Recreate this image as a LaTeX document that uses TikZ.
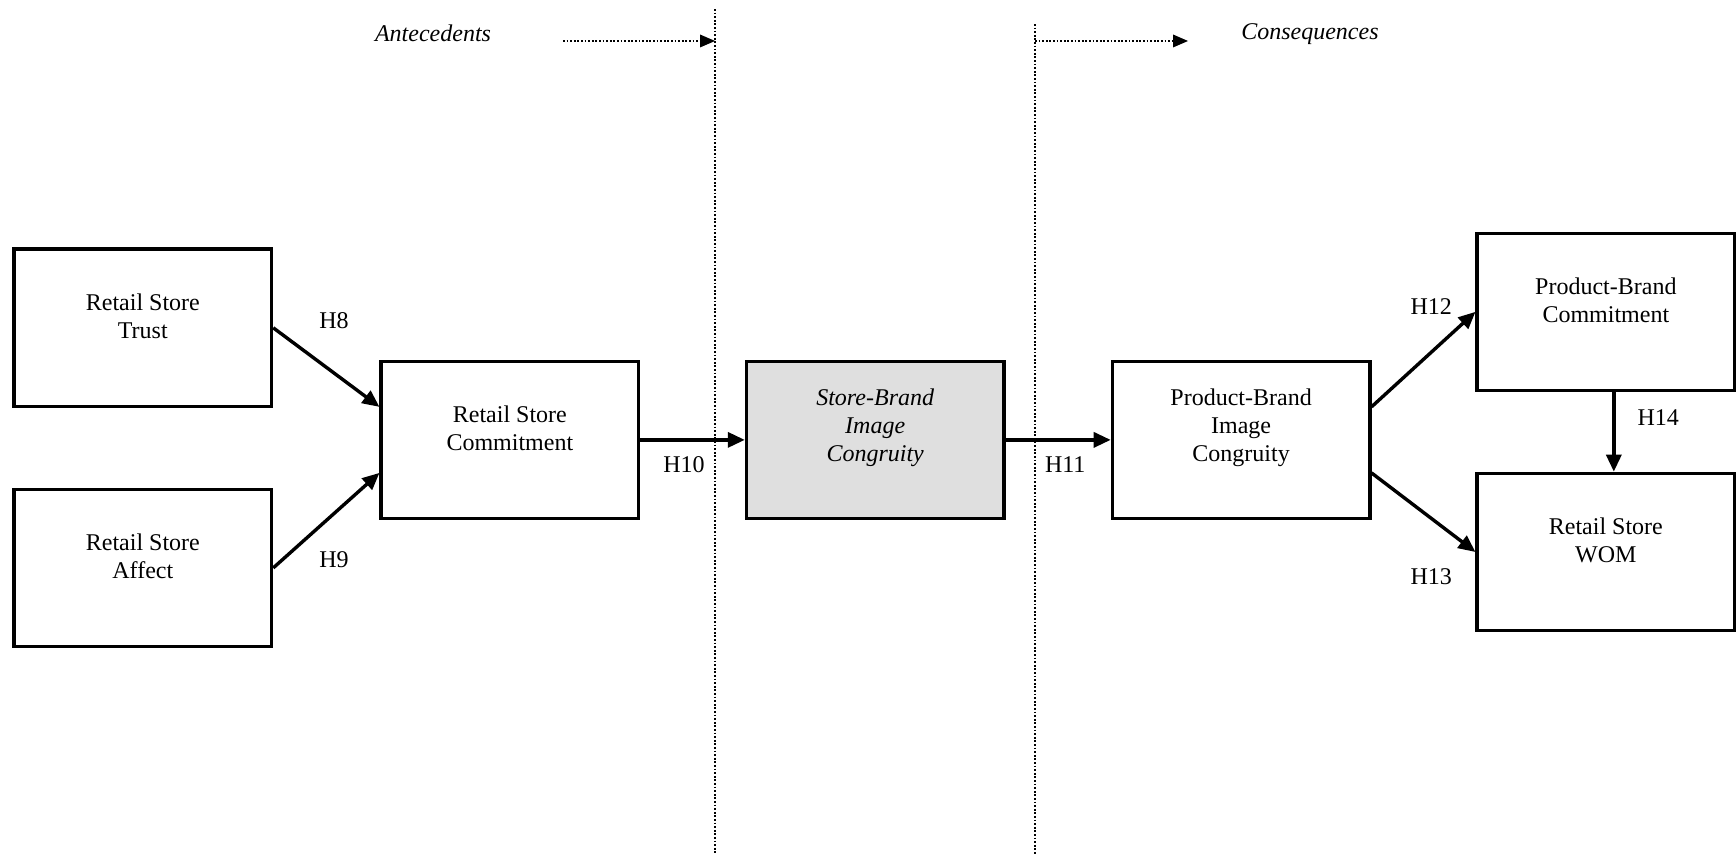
\documentclass[tikz,border=0pt]{standalone}
\usepackage{fontspec}
\setmainfont{Liberation Serif}
\usetikzlibrary{arrows.meta}

\tikzset{
  construct/.style={draw, line width=1.8pt, minimum width=4.52cm, minimum height=2.76cm, inner sep=0pt},
  boxtext/.style={align=center, yshift=0.21cm, font=\fontsize{12pt}{14pt}\selectfont},
  hyp/.style={font=\fontsize{12pt}{14pt}\selectfont},
  path arrow/.style={line width=1.7pt, -{Triangle[length=8.5pt,width=7.5pt]}},
  divider/.style={line width=1.4pt, dash pattern=on 0.9pt off 0.9pt},
  phase arrow/.style={divider, -{Triangle[length=7.5pt,width=6.5pt,line width=0pt]}}
}

\begin{document}
\begin{tikzpicture}

    \useasboundingbox (0, 0) rectangle (30.507, -15.007);

    % phase dividers
    \coordinate (d1top) at (12.565, -0.158);
    \coordinate (d1bot) at (12.565, -15.007);
    \coordinate (d2top) at (18.188, -0.422);
    \coordinate (d2bot) at (18.188, -15.007);
    \draw [divider] (d1top) -- (d1bot);
    \draw [divider] (d2top) -- (d2bot);

    \node[hyp, font=\fontsize{12pt}{14pt}\selectfont\itshape] at (7.61, -0.58) (ante) {Antecedents};
    \node[hyp, font=\fontsize{12pt}{14pt}\selectfont\itshape] at (23.02, -0.60) (cons) {Consequences};
    \coordinate (a1) at (9.894, -0.72);
    \coordinate (a2) at (12.565, -0.72);
    \coordinate (c1) at (18.188, -0.72);
    \coordinate (c2) at (20.877, -0.72);
    \draw [phase arrow] (a1) -- (a2);
    \draw [phase arrow] (c1) -- (c2);

    % constructs
    \draw (2.51, -5.76) node[construct, label={[boxtext]center:Retail Store\\Trust}] (trust) {};
    \draw (2.51, -9.98) node[construct, label={[boxtext]center:Retail Store\\Affect}] (affect) {};
    \draw (8.96, -7.73) node[construct, label={[boxtext]center:Retail Store\\Commitment}] (rscom) {};
    \draw (15.38, -7.73) node[construct, fill=gray!25, label={[boxtext, font=\fontsize{12pt}{14pt}\selectfont\itshape]center:Store-Brand\\Image\\Congruity}] (sbic) {};
    \draw (21.81, -7.73) node[construct, label={[boxtext]center:Product-Brand\\Image\\Congruity}] (pbic) {};
    \draw (28.22, -5.48) node[construct, label={[boxtext]center:Product-Brand\\Commitment}] (pbcom) {};
    \draw (28.22, -9.70) node[construct, label={[boxtext]center:Retail Store\\WOM}] (wom) {};

    % hypotheses
    \draw [path arrow] (trust.east) to ([yshift=0.58cm]rscom.west);
    \draw [path arrow] (affect.east) to ([yshift=-0.58cm]rscom.west);
    \draw [path arrow] (rscom) to (sbic);
    \draw [path arrow] (sbic) to (pbic);
    \draw [path arrow] ([yshift=0.58cm]pbic.east) to (pbcom.west);
    \draw [path arrow] ([yshift=-0.58cm]pbic.east) to (wom.west);
    \draw [path arrow] ([xshift=0.14cm]pbcom.south) to ([xshift=0.14cm]wom.north);

    \node[hyp] at (5.87, -5.64) (h8) {H8};
    \node[hyp] at (5.87, -9.84) (h9) {H9};
    \node[hyp] at (12.02, -8.17) (h10) {H10};
    \node[hyp] at (18.72, -8.17) (h11) {H11};
    \node[hyp] at (25.15, -5.38) (h12) {H12};
    \node[hyp] at (25.15, -10.14) (h13) {H13};
    \node[hyp] at (29.14, -7.33) (h14) {H14};

\end{tikzpicture}
\end{document}
